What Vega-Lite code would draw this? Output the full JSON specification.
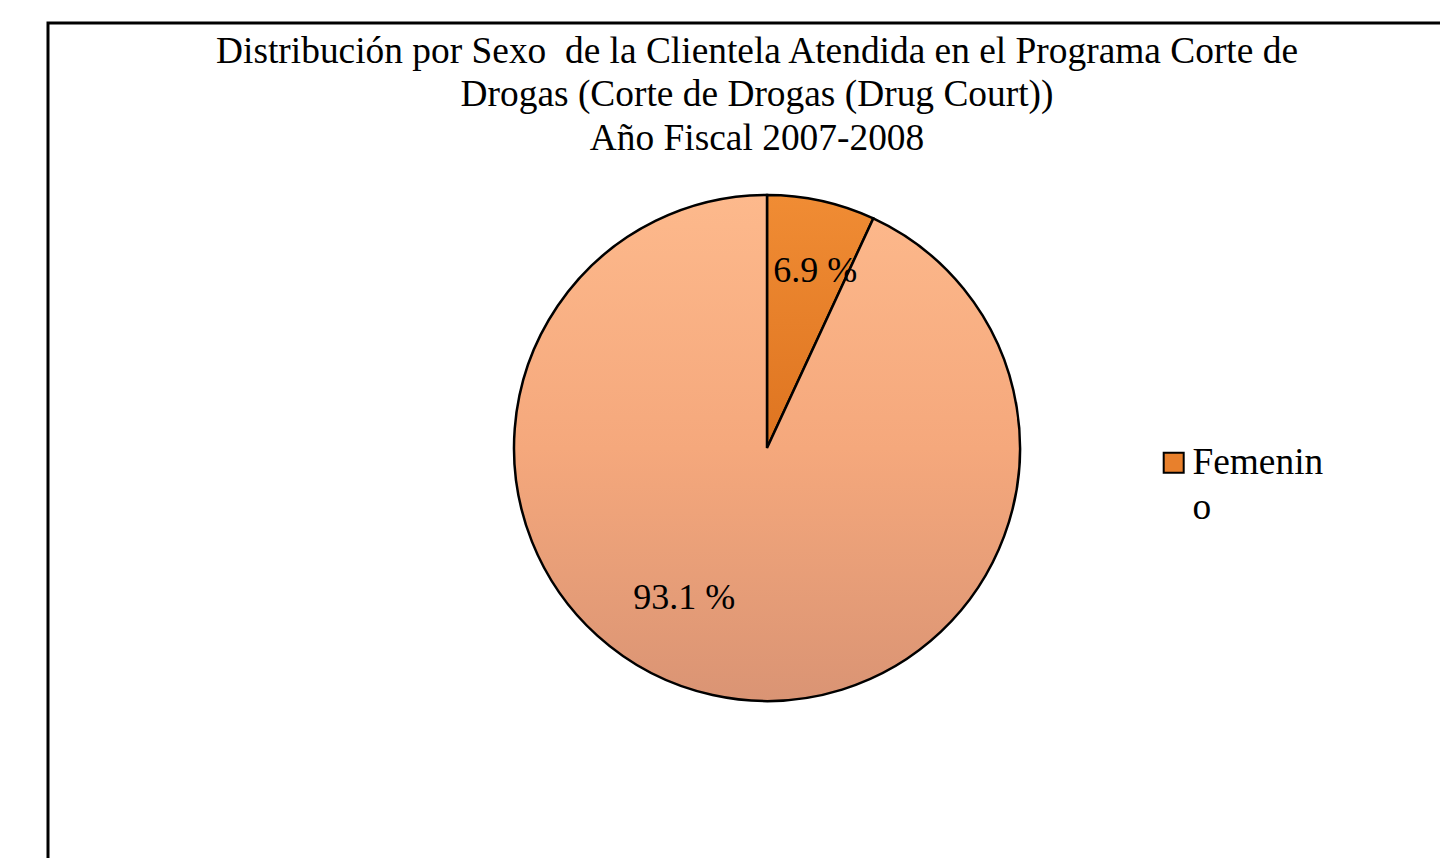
{
  "$schema": "https://vega.github.io/schema/vega-lite/v6.json",
  "width": 1438,
  "height": 850,
  "autosize": {"type": "none"},
  "padding": {"left": 48, "top": 23, "right": 0, "bottom": 0},
  "background": "white",
  "view": {"stroke": "black", "strokeWidth": 3, "fill": "white"},
  "config": {"view": {"stroke": "black", "strokeWidth": 3}, "style": {"cell": {"stroke": "black", "strokeWidth": 3}}},
  "title": {
    "text": ["Distribución por Sexo\u00a0 de la Clientela Atendida en el Programa Corte de", "Drogas (Corte de Drogas (Drug Court))", "Año Fiscal 2007-2008"],
    "font": "Liberation Serif",
    "fontSize": 37.4,
    "fontWeight": "normal",
    "color": "black",
    "lineHeight": 43.5,
    "anchor": "middle",
    "frame": "group",
    "orient": "top",
    "offset": -134,
    "dx": -10
  },
  "data": {"values": [
    {"sexo": "Femenino", "porcentaje": 6.9, "etiqueta": "6.9 %"},
    {"sexo": "Masculino", "porcentaje": 93.1, "etiqueta": "93.1 %"}
  ]},
  "encoding": {
    "theta": {"field": "porcentaje", "type": "quantitative", "stack": true}
  },
  "layer": [
    {
      "mark": {"type": "arc", "outerRadius": 253, "stroke": "black", "strokeWidth": 2.5},
      "encoding": {
        "fill": {
          "condition": {
            "test": "datum.sexo == 'Femenino'",
            "value": {"gradient": "linear", "x1": 0, "y1": 0, "x2": 0, "y2": 1, "stops": [{"offset": 0, "color": "#F08C34"}, {"offset": 1, "color": "#DE7420"}]}
          },
          "value": {"gradient": "linear", "x1": 0, "y1": 0, "x2": 0, "y2": 1, "stops": [{"offset": 0, "color": "#FDB98C"}, {"offset": 0.5, "color": "#F5A87C"}, {"offset": 1, "color": "#DA9474"}]}
        }
      }
    },
    {
      "mark": {"type": "arc", "outerRadius": 253, "opacity": 0},
      "encoding": {
        "color": {
          "field": "sexo",
          "type": "nominal",
          "scale": {"domain": ["Femenino", "Masculino"], "range": ["#E8802C", "#F5A87C"]},
          "legend": {
            "values": ["Femenino"],
            "orient": "none",
            "legendX": 1107,
            "legendY": 421,
            "title": null,
            "symbolType": "square",
            "symbolSize": 400,
            "symbolOpacity": 1,
            "symbolStrokeColor": "black",
            "symbolStrokeWidth": 2,
            "labelFont": "Liberation Serif",
            "labelFontSize": 37.4,
            "labelColor": "black",
            "labelOpacity": 1,
            "labelLimit": 400,
            "labelOffset": 0,
            "labelExpr": "datum.label == 'Femenino' ? ['Femenin', 'o'] : datum.label",
            "encode": {"labels": {"update": {"lineHeight": {"value": 45}}}}
          }
        }
      }
    },
    {
      "mark": {"type": "text", "radius": 183, "dx": 9, "dy": 2, "font": "Liberation Serif", "fontSize": 36, "color": "black"},
      "encoding": {
        "text": {"condition": {"test": "datum.sexo == 'Femenino'", "field": "etiqueta"}, "value": ""}
      }
    },
    {
      "mark": {"type": "text", "radius": 171, "dx": -46, "dy": -17, "font": "Liberation Serif", "fontSize": 36, "color": "black"},
      "encoding": {
        "text": {"condition": {"test": "datum.sexo == 'Masculino'", "field": "etiqueta"}, "value": ""}
      }
    }
  ]
}
